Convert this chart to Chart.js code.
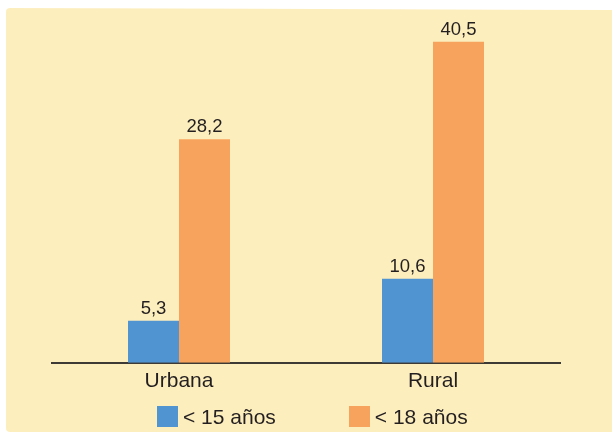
<!DOCTYPE html>
<html>
<head>
<meta charset="utf-8">
<script src="https://cdn.jsdelivr.net/npm/chart.js@4"></script>
<style>
  body { margin: 0; background: #fff; }
  #wrap { position: relative; width: 612px; height: 433px; overflow: hidden; }
  #panel { position: absolute; left: 6px; top: 8px; width: 606px; height: 424px;
           background: #fdeebd; border-radius: 4px 0 0 4px;
           clip-path: polygon(0 0, 100% 2px, 100% 100%, 0 100%); }
  #c { position: absolute; left: 0; top: 0; }
  #legend { position: absolute; left: 157px; top: 406px; height: 21px; font: 21px "Liberation Sans", Arial, sans-serif;
            color: #231f20; display: flex; align-items: center; }
  .item { display: flex; align-items: center; margin-right: 73px; }
  .box { width: 21px; height: 21px; margin-right: 5px; }
</style>
</head>
<body>
<div id="wrap">
  <div id="panel"></div>
  <canvas id="c" width="612" height="433"></canvas>
  <div id="legend"></div>
</div>
<script>
  // datos
  const zonas = ["Urbana", "Rural"];
  const menores15 = [5.3, 10.6];
  const menores18 = [28.2, 40.5];
  const nombres = ["< 15 años", "< 18 años"];
  const colores = ["#5094d1", "#f7a35d"];

  // etiquetas sobre las barras, con coma decimal
  const etiquetas = {
    id: "etiquetas",
    afterDatasetsDraw(chart) {
      const ctx = chart.ctx;
      ctx.save();
      ctx.font = '18.5px "Liberation Sans", Arial, sans-serif';
      ctx.fillStyle = "#231f20";
      ctx.textAlign = "center";
      ctx.textBaseline = "alphabetic";
      chart.data.datasets.forEach((ds, i) => {
        chart.getDatasetMeta(i).data.forEach((bar, j) => {
          ctx.fillText(String(ds.data[j]).replace(".", ","), bar.x, bar.y - 7);
        });
      });
      ctx.restore();
    }
  };

  const leyenda = document.getElementById("legend");
  nombres.forEach((n, i) => {
    const it = document.createElement("div");
    it.className = "item";
    it.innerHTML = '<div class="box" style="background:' + colores[i] + '"></div><span>' + n + '</span>';
    leyenda.appendChild(it);
  });

  new Chart(document.getElementById("c"), {
    type: "bar",
    data: {
      labels: zonas,
      datasets: [
        { label: nombres[0], data: menores15, backgroundColor: colores[0] },
        { label: nombres[1], data: menores18, backgroundColor: colores[1] }
      ]
    },
    options: {
      responsive: false,
      animation: false,
      layout: { padding: { left: 52, right: 52, top: 6, bottom: 33 } },
      datasets: { bar: { barPercentage: 1, categoryPercentage: 0.4016 } },
      plugins: { legend: { display: false }, tooltip: { enabled: false } },
      scales: {
        x: {
          grid: { display: false, drawTicks: false },
          border: { display: true, color: "#3d3a36", width: 2 },
          ticks: { color: "#231f20", padding: 6, font: { size: 21, family: '"Liberation Sans", Arial, sans-serif' } }
        },
        y: { display: false, min: 0, max: 45 }
      }
    },
    plugins: [etiquetas]
  });
</script>
</body>
</html>
